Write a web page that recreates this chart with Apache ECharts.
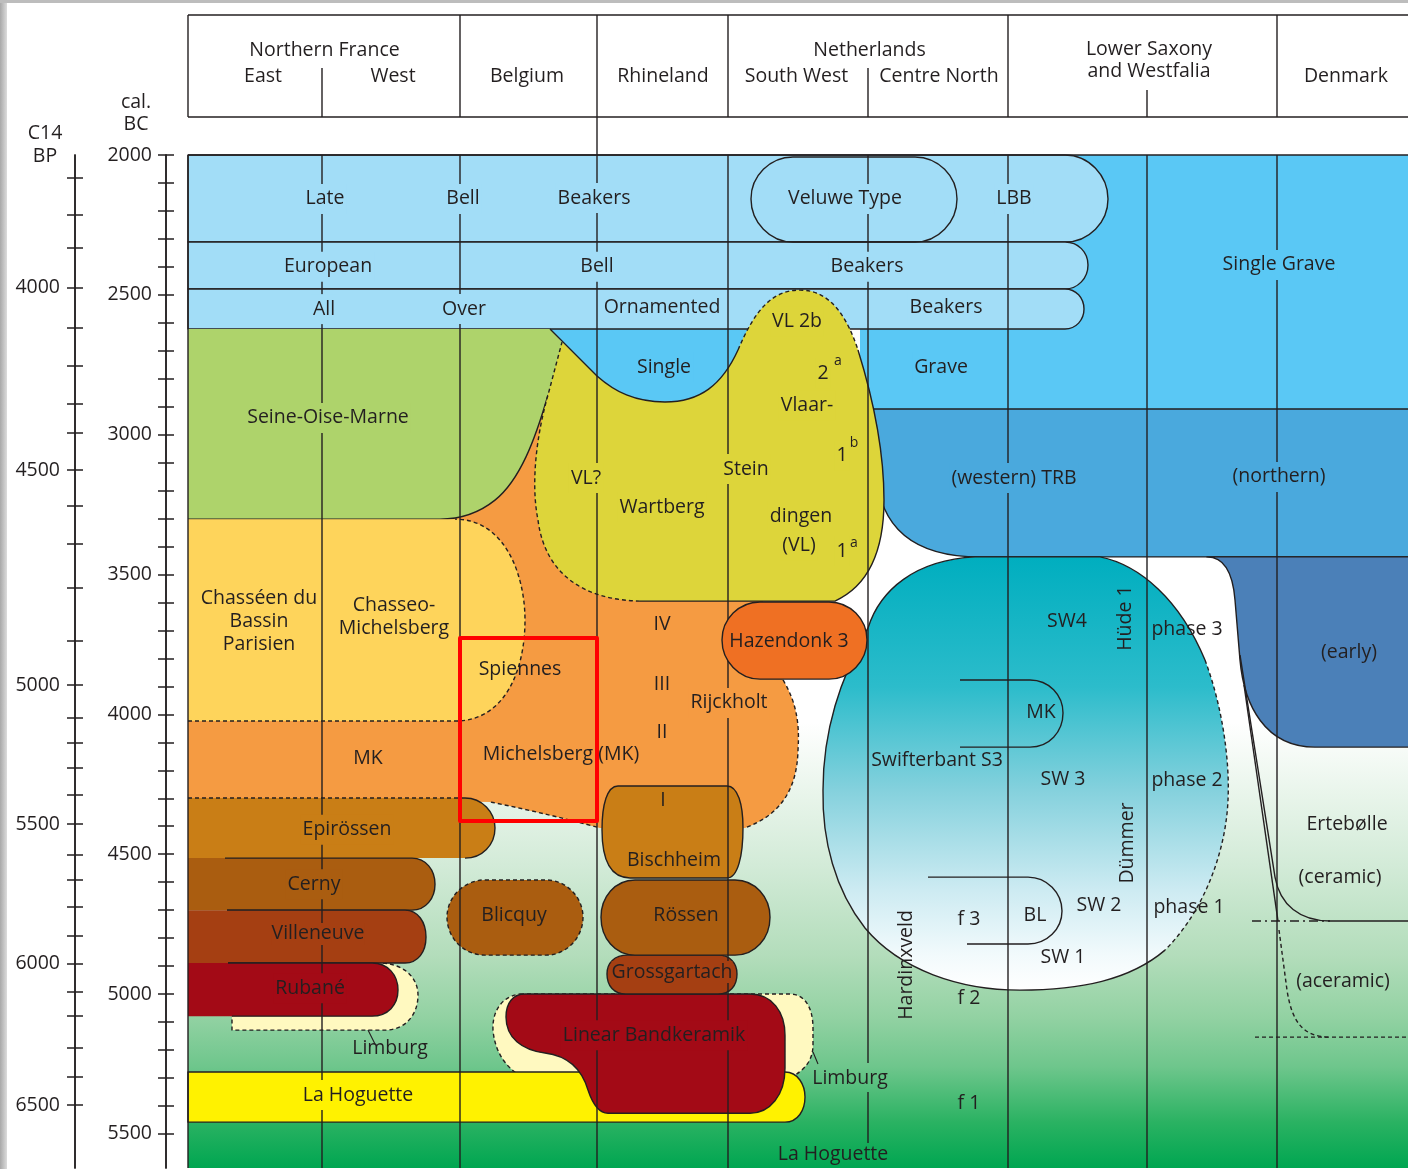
<!DOCTYPE html>
<html>
<head>
<meta charset="utf-8">
<script src="https://cdn.jsdelivr.net/npm/echarts@6/dist/echarts.min.js"></script>
<style>
html,body{margin:0;padding:0;background:#fff;}
#main{width:1408px;height:1169px;}
</style>
</head>
<body>
<div id="main"></div>
<script>
// ================= DATA =================
// x: west -> east position (0 = left edge of Northern France East column), y: cal BC years
const calLabels = [2000, 2500, 3000, 3500, 4000, 4500, 5000, 5500];
const calTickStep = 100;
const c14BP    = [3700,3800,3900,4000,4100,4200,4300,4400,4500,4600,4700,4800,4900,5000,5100,5200,5300,5400,5500,5600,5700,5800,5900,6000,6100,6200,6300,6400,6500];
const c14CalBC = [2083,2213,2331,2474,2619,2754,2888,2992,3127,3254,3391,3547,3738,3895,4013,4101,4191,4288,4392,4503,4592,4688,4791,4892,4992,5079,5192,5297,5397];
const c14Labelled = [4000, 4500, 5000, 5500, 6000, 6500];

const columnLines = [134, 272, 409, 540, 680, 820, 959, 1089];
const columnLineGaps = [[680, 5247, 5350], [680, 5533, 5622]]; // [x, from, to] breaks around labels
const headerFullLines = [0, 272, 409, 540, 820, 1089];
const headerSplitLinesHigh = [134, 680];
const headerSplitLinesLow = [959];
const headerBridgeLines = [409];
const headerRegions = [['Northern France', 136.5], ['Netherlands', 681.5]];
const headerTwoLine = [['Lower Saxony\nand Westfalia', 961]];
const headerSubRegions = [['East', 75], ['West', 205], ['Belgium', 339], ['Rhineland', 475], ['South West', 608.5], ['Centre North', 751], ['Denmark', 1158]];

// culture outlines (path commands in [x, cal BC])
const chartField = ['M',0,2000,'L',1230,2000,'L',1230,5622,'L',0,5622,'Z'];
const singleGraveArea = ['M',352,2590,'L',409,2790,'C',427,2847,447,2883,477,2883,'C',512,2883,534,2822,550,2697,'L',592,2518,'L',592,2000,'L',1230,2000,'L',1230,2908,'L',672,2908,'L',672,2590,'Z'];
const bellBeakerLate = ['M',0,2000,'L',877,2000,'C',901,2000,920,2075,920,2157,'C',920,2240,901,2311,877,2311,'L',0,2311,'Z'];
const bellBeakerEuropean = ['M',0,2311,'L',877,2311,'C',890,2311,900,2347,900,2393,'C',900,2440,890,2479,877,2479,'L',0,2479,'Z'];
const bellBeakerAllOver = ['M',0,2479,'L',877,2479,'C',888,2479,896,2511,896,2551,'C',896,2590,888,2622,877,2622,'L',0,2622,'Z'];
const veluweType = ['M',605,2007,'L',727,2007,'C',750,2007,769,2075,769,2157,'C',769,2240,750,2311,727,2311,'L',605,2311,'C',582,2311,563,2240,563,2157,'C',563,2075,582,2007,605,2007,'Z'];
const trbWestern = ['M',680,2908,'L',1230,2908,'L',1230,3437,'L',792,3437,'C',725,3437,691,3334,688,3126,'L',680,2908,'Z'];
const trbEarly = ['M',1019,3437,'C',1037,3437,1045,3502,1047,3591,'L',1052,3806,'C',1056,3967,1077,4117,1127,4117,'L',1230,4117,'L',1230,3437,'Z'];
const swifterbant = ['M',680,3691,'C',692,3555,727,3448,787,3437,'L',912,3437,'C',952,3466,992,3591,1017,3806,'C',1034,3967,1042,4163,1040,4306,'C',1038,4485,1017,4700,977,4843,'C',942,4950,892,4986,832,4986,'C',772,4986,712,4914,677,4764,'C',647,4628,634,4449,635,4271,'C',635,4056,652,3877,680,3691,'Z'];
const swifterbantEdge = ['M',977,4843,'C',942,4950,892,4986,832,4986,'C',772,4986,712,4914,677,4764,'C',647,4628,634,4449,635,4271,'C',635,4056,652,3877,680,3691,'C',692,3555,727,3448,787,3437,'L',912,3437,'C',952,3466,992,3591,1017,3806];
const swifterbantEdgeDashed = ['M',1017,3806,'C',1034,3967,1042,4163,1040,4306,'C',1038,4485,1017,4700,977,4843];
const michelsbergArea = ['M',0,3252,'L',360,2805,'L',452,3448,'L',572,3555,'L',595,3877,'C',607,3949,612,4020,610,4128,'C',609,4271,592,4360,557,4406,'L',412,4406,'C',382,4377,342,4342,302,4313,'L',0,4299,'Z'];
const michelsbergEdgeRight = ['M',595,3877,'C',607,3949,612,4020,610,4128,'C',609,4271,592,4360,557,4406];
const michelsbergEdgeBottom = ['M',409,4403,'C',382,4377,342,4342,302,4313];
const seineOiseMarne = ['M',0,2622,'L',362,2622,'L',374,2669,'C',372,2740,368,2797,360,2858,'C',347,3019,332,3162,307,3234,'C',292,3277,274,3302,252,3302,'L',0,3302,'Z'];
const seineOiseMarneEdge = ['M',360,2858,'C',347,3019,332,3162,307,3234,'C',292,3277,274,3302,252,3302,'L',0,3302];
const chasseen = ['M',0,3302,'L',267,3302,'C',317,3302,337,3502,337,3663,'C',337,3842,317,4024,267,4024,'L',0,4024,'Z'];
const chasseenEdge = ['M',0,4024,'L',267,4024,'C',317,4024,337,3842,337,3663,'C',337,3502,317,3302,267,3302];
const vlaardingen = ['M',612,2483,'C',644,2483,660,2590,670,2697,'C',684,2858,696,3055,696,3234,'C',696,3412,682,3538,647,3595,'L',452,3595,'C',397,3591,357,3502,350,3305,'C',342,3162,350,2983,360,2858,'L',374,2669,'L',409,2790,'C',427,2847,447,2883,477,2883,'C',512,2883,534,2822,550,2697,'C',567,2554,584,2483,612,2483,'Z'];
const vlEdgeDashedLeft = ['M',452,3595,'C',397,3591,357,3502,350,3305,'C',342,3162,350,2983,360,2858,'L',374,2669];
const vlEdgeDashedTop = ['M',550,2697,'C',567,2554,584,2483,612,2483,'C',644,2483,660,2590,670,2697];
const vlEdgeSolidU = ['M',362,2622,'L',409,2790,'C',427,2847,447,2883,477,2883,'C',512,2883,534,2822,550,2697];
const vlEdgeSolidRight = ['M',670,2697,'C',684,2858,696,3055,696,3234,'C',696,3412,682,3538,647,3595,'L',452,3595];
const epirossen = ['M',0,4299,'L',277,4299,'C',294,4299,307,4349,307,4406,'C',307,4467,294,4514,277,4514,'L',0,4514,'Z'];
const epirossenEdge = ['M',277,4299,'C',294,4299,307,4349,307,4406,'C',307,4467,294,4514,277,4514];
const mkEpirossenBoundary = ['M',0,4299,'L',277,4299];
const cerny = ['M',0,4514,'L',224,4514,'C',238,4514,247,4557,247,4607,'C',247,4657,238,4700,224,4700,'L',0,4700,'Z'];
const cernyEdge = ['M',37,4514,'L',224,4514,'C',238,4514,247,4557,247,4607,'C',247,4657,238,4700,224,4700,'L',39,4700];
const limburgWest = ['M',44,4889,'L',195,4889,'C',217,4896,230,4943,230,5004,'C',230,5075,217,5129,197,5129,'L',44,5129,'Z'];
const limburgWestEdge = ['M',195,4889,'C',217,4896,230,4943,230,5004,'C',230,5075,217,5129,197,5129,'L',44,5129,'L',44,5079];
const villeneuve = ['M',0,4700,'L',217,4700,'C',230,4700,238,4743,238,4796,'C',238,4850,230,4889,217,4889,'L',0,4889,'Z'];
const villeneuveEdge = ['M',39,4700,'L',217,4700,'C',230,4700,238,4743,238,4796,'C',238,4850,230,4889,217,4889,'L',40,4889];
const rubane = ['M',0,4889,'L',184,4889,'C',200,4889,210,4932,210,4986,'C',210,5039,200,5079,184,5079,'L',0,5079,'Z'];
const rubaneEdge = ['M',40,4889,'L',184,4889,'C',200,4889,210,4932,210,4986,'C',210,5039,200,5079,184,5079,'L',44,5079];
const limburgEast = ['M',332,5000,'L',602,5000,'C',617,5000,625,5050,625,5122,'L',625,5182,'C',625,5236,617,5272,602,5300,'L',332,5293,'C',317,5257,307,5207,305,5129,'C',304,5057,315,5007,332,5000,'Z'];
const laHoguette = ['M',0,5279,'L',597,5279,'C',610,5279,617,5325,617,5368,'C',617,5415,610,5458,597,5458,'L',0,5458,'Z'];
const lbk = ['M',337,5000,'L',562,5000,'C',584,5000,597,5064,597,5147,'L',597,5265,'C',597,5361,582,5426,562,5426,'L',420,5426,'C',410,5426,404,5386,400,5343,'C',394,5272,382,5222,357,5211,'C',334,5200,318,5157,318,5082,'C',318,5032,325,5000,337,5000,'Z'];
const grossgartach = ['M',440,4861,'L',530,4861,'C',542,4861,549,4889,549,4928,'C',549,4971,542,5000,530,5000,'L',438,5000,'C',426,5000,419,4971,419,4928,'C',419,4889,426,4861,440,4861,'Z'];
const rossen = ['M',447,4592,'L',547,4592,'C',567,4592,582,4653,582,4725,'C',582,4800,567,4861,547,4861,'L',447,4861,'C',427,4861,413,4800,413,4725,'C',413,4653,427,4592,447,4592,'Z'];
const bischheim = ['M',430,4256,'L',539,4256,'C',550,4256,555,4324,555,4406,'C',555,4503,550,4585,539,4585,'L',442,4585,'C',422,4585,414,4521,414,4413,'C',414,4324,419,4256,430,4256,'Z'];
const blicquy = ['M',297,4592,'L',358,4592,'C',378,4592,395,4653,395,4725,'C',395,4800,378,4861,358,4861,'L',297,4861,'C',276,4861,259,4800,259,4725,'C',259,4653,276,4592,297,4592,'Z'];
const hazendonk = ['M',572,3598,'L',641,3598,'C',662,3598,679,3659,679,3734,'C',679,3809,662,3874,641,3874,'L',572,3874,'C',551,3874,534,3809,534,3734,'C',534,3659,551,3598,572,3598,'Z'];
const swifterbantMK = ['M',772,3877,'L',842,3877,'C',861,3877,875,3931,875,3995,'C',875,4063,861,4117,842,4117,'L',772,4117];
const swifterbantBL = ['M',740,4582,'L',840,4582,'C',859,4582,874,4639,874,4703,'C',874,4768,859,4821,840,4821,'L',779,4821];
const erteCeramicEdge = ['M',1052,3788,'L',1087,4582,'C',1092,4682,1112,4739,1142,4739,'L',1230,4739];
const erteAceramicEdge = ['M',1056,3895,'L',1090,4739];
const erteAceramicDashed = ['M',1091,4771,'L',1099,4986,'C',1104,5100,1115,5154,1142,5154];
const erteAceramicBase = ['M',1067,5154,'L',1230,5154];
const erteCeramicBase = ['M',1064,4739,'L',1142,4739];
const limburgLeaders = ['M',180,5129,'L',187,5179,'M',625,5207,'L',630,5250];
const chartTopBorder = ['M',0,2000,'L',1230,2000];
const chartLeftBorder = ['M',0,2000,'L',0,5622];
const highlightBox = ['M',272,3727,'L',409,3727,'L',409,4381,'L',272,4381,'Z'];

// labels: [text, x, cal BC]
const beakerLabels = [['Late',137,2157],['Bell',275,2157],['Beakers',406,2154],['Veluwe Type',657,2157],['LBB',826,2157],['European',140,2400],['Bell',409,2400],['Beakers',679,2400],['All',136,2551],['Over',276,2551],['Ornamented',474,2544],['Beakers',758,2544]];
const singleGraveLabels = [['Single Grave',1091,2393],['Single',476,2758],['Grave',753,2758]];
const somLabels = [['Seine-Oise-Marne',140,2940]];
const trbLabels = [['(western) TRB',826,3155],['(northern)',1091,3151]];
const earlyTrbLabels = [['(early)',1161,3777]];
const vlLabels = [['VL 2b',609,2594],['Vlaar-',619,2897],['Stein',558,3123],['VL?',398,3155],['Wartberg',474,3259],['dingen',613,3291],['(VL)',611,3395],['2',635,2780],['1',654,3073],['1',654,3416]];
const vlSuperscripts = [['a',650,2737],['b',666,3030],['a',666,3387]];
const chasseenLabels = [['Chasséen du\nBassin\nParisien',71,3666],['Chasseo-\nMichelsberg',206,3650],['Spiennes',332,3838]];
const michelsbergLabels = [['IV',474,3677],['III',474,3892],['II',474,4063],['Michelsberg (MK)',373,4145],['MK',180,4156]];
const rijckholtLabels = [['Rijckholt',541,3959]];
const hazendonkLabels = [['Hazendonk 3',601,3738]];
const epirossenLabels = [['Epirössen',159,4413]];
const cernyLabels = [['Cerny',126,4607]];
const villeneuveLabels = [['Villeneuve',130,4785],['Grossgartach',484,4921]];
const rubaneLabels = [['Rubané',122,4979],['Linear Bandkeramik',466,5147]];
const hoguetteLabels = [['La Hoguette',170,5361]];
const danubianLabels = [['I',475,4306],['Bischheim',486,4524],['Rössen',498,4718],['Blicquy',326,4718],['Limburg',202,5193]];
const eastLowerLabels = [['Limburg',662,5300],['La Hoguette',645,5572]];
const swifterbantLabels = [['SW4',879,3666],['phase 3',999,3695],['MK',853,3992],['Swifterbant S3',749,4163],['SW 3',875,4231],['phase 2',999,4238],['SW 2',911,4682],['phase 1',1001,4689],['BL',847,4718],['f 3',781,4735],['SW 1',875,4868],['f 2',781,5014],['f 1',781,5390]];
const verticalLabels = [['Hüde 1',937,3656],['Dümmer',939,4460],['Hardinxveld',718,4896]];
const denmarkLabels = [['Ertebølle',1159,4392],['(ceramic)',1152,4582],['(aceramic)',1155,4954]];

// ================= STYLE / RENDER =================
const INK = '#231f20';
const FONT = '"Open Sans", "Noto Sans", sans-serif';
const FS = 19.5;
const LW = 1.4;
const solid = { stroke: INK, lineWidth: LW };
const dashed = { stroke: INK, lineWidth: LW, lineDash: [4, 3] };

const fieldGradient = new echarts.graphic.LinearGradient(0, 0, 0, 1, [
  { offset: 0, color: '#ffffff' }, { offset: 0.56, color: '#ffffff' },
  { offset: 0.63, color: '#e9f5eb' }, { offset: 0.70, color: '#d3ebd8' },
  { offset: 0.79, color: '#b3ddbb' }, { offset: 0.85, color: '#93d2a3' },
  { offset: 0.90, color: '#6ec68c' }, { offset: 0.955, color: '#2ab262' },
  { offset: 1, color: '#00a651' }
]);
const swGradient = new echarts.graphic.LinearGradient(0, 0, 0, 1, [
  { offset: 0, color: '#00aebf' }, { offset: 0.3, color: '#2cbccb' },
  { offset: 0.54, color: '#85d1dd' }, { offset: 0.77, color: '#cdebf2' },
  { offset: 0.92, color: '#f2fafc' }, { offset: 1, color: '#ffffff' }
]);

const drawList = [
  { g: chartField, fill: fieldGradient },
  { g: singleGraveArea, fill: '#5ac8f5' },
  { g: bellBeakerLate, fill: '#a2ddf7', ...solid },
  { g: bellBeakerEuropean, fill: '#a2ddf7', ...solid },
  { g: bellBeakerAllOver, fill: '#a2ddf7', ...solid },
  { g: veluweType, ...solid },
  { g: trbWestern, fill: '#4aa9dd', ...solid },
  { g: trbEarly, fill: '#4b80b8', ...solid },
  { g: swifterbant, fill: swGradient },
  { g: swifterbantEdge, ...solid },
  { g: swifterbantEdgeDashed, ...dashed },
  { g: michelsbergArea, fill: '#f59b42' },
  { g: seineOiseMarne, fill: '#aed36b' },
  { g: seineOiseMarneEdge, ...solid },
  { g: chasseen, fill: '#fed45b' },
  { g: chasseenEdge, ...dashed },
  { g: vlaardingen, fill: '#ddd53a' },
  { g: vlEdgeDashedLeft, ...dashed },
  { g: vlEdgeDashedTop, ...dashed },
  { g: vlEdgeSolidU, ...solid },
  { g: vlEdgeSolidRight, ...solid },
  { g: michelsbergEdgeRight, ...dashed },
  { g: michelsbergEdgeBottom, ...dashed },
  { g: epirossen, fill: '#c97e16' },
  { g: epirossenEdge, ...solid },
  { g: mkEpirossenBoundary, ...dashed },
  { g: cerny, fill: '#aa5d10' },
  { g: cernyEdge, ...solid },
  { g: limburgWest, fill: '#fff9c0' },
  { g: limburgWestEdge, ...dashed },
  { g: villeneuve, fill: '#a53f12' },
  { g: villeneuveEdge, ...solid },
  { g: rubane, fill: '#a30a16' },
  { g: rubaneEdge, ...solid },
  { g: limburgEast, fill: '#fff9c0', ...dashed },
  { g: laHoguette, fill: '#fff200', ...solid },
  { g: lbk, fill: '#a30a16', ...solid },
  { g: grossgartach, fill: '#a53f12', ...solid },
  { g: rossen, fill: '#aa5d10', ...solid },
  { g: bischheim, fill: '#c97e16', ...solid },
  { g: blicquy, fill: '#aa5d10', ...dashed },
  { g: swifterbantMK, ...solid },
  { g: swifterbantBL, ...solid },
  { g: erteCeramicEdge, ...solid },
  { g: erteAceramicEdge, ...solid },
  { g: erteAceramicDashed, ...dashed },
  { g: erteAceramicBase, ...dashed },
  { g: erteCeramicBase, stroke: INK, lineWidth: LW, lineDash: [9, 4, 2, 4] },
  { g: limburgLeaders, stroke: INK, lineWidth: 1.1 }
];

// column lines, split where a label interrupts them
function columnSegments() {
  const out = [];
  columnLines.forEach(x => {
    const gaps = columnLineGaps.filter(g => g[0] === x).sort((a, b) => a[1] - b[1]);
    let start = 2000;
    gaps.forEach(g => { out.push(['M', x, start, 'L', x, g[1]]); start = g[2]; });
    if (start < 5622) out.push(['M', x, start, 'L', x, 5622]);
  });
  return out;
}
const lineList = [{ g: chartTopBorder, ...solid }, { g: chartLeftBorder, ...solid }]
  .concat(columnSegments().map(seg => ({ g: seg, ...solid })));
const topList = [{ g: hazendonk, fill: '#ef7023', ...solid }];
const boxList = [{ g: highlightBox, stroke: '#ff0000', lineWidth: 4 }];

const labelSets = [
  [beakerLabels, { bg: '#a2ddf7' }],
  [singleGraveLabels, { bg: '#5ac8f5' }],
  [somLabels, { bg: '#aed36b' }],
  [trbLabels, { bg: '#4aa9dd' }],
  [earlyTrbLabels, {}],
  [vlLabels, { bg: '#ddd53a' }],
  [vlSuperscripts, { size: 14 }],
  [chasseenLabels, { lh: 23 }],
  [michelsbergLabels, {}],
  [rijckholtLabels, { bg: '#f59b42' }],
  [hazendonkLabels, {}],
  [epirossenLabels, { bg: '#c97e16' }],
  [cernyLabels, { bg: '#aa5d10' }],
  [villeneuveLabels, { bg: '#a53f12', pad: [1, 0] }],
  [rubaneLabels, { bg: '#a30a16' }],
  [hoguetteLabels, { bg: '#fff200' }],
  [danubianLabels, {}],
  [eastLowerLabels, {}],
  [swifterbantLabels, {}],
  [verticalLabels, { rot: Math.PI / 2 }],
  [denmarkLabels, {}]
];
const labelItems = [];
labelSets.forEach(([arr, st]) => arr.forEach(l => labelItems.push({ t: l[0], x: l[1], y: l[2], st })));

function pathFrom(cmds, api) {
  let d = '';
  for (let i = 0; i < cmds.length;) {
    const c = cmds[i++];
    if (c === 'Z') { d += 'Z '; continue; }
    const n = c === 'C' ? 3 : 1;
    d += c;
    for (let k = 0; k < n; k++) {
      const p = api.coord([cmds[i], cmds[i + 1]]);
      i += 2;
      d += ' ' + p[0].toFixed(2) + ' ' + p[1].toFixed(2);
    }
    d += ' ';
  }
  return d;
}
function pathSeries(list, z) {
  return {
    type: 'custom', coordinateSystem: 'cartesian2d', z, silent: true, clip: false,
    data: list.map((_, i) => [i, 2000]),
    renderItem: (params, api) => {
      const it = list[params.dataIndex];
      return {
        type: 'path', silent: true,
        shape: { pathData: pathFrom(it.g, api) },
        style: { fill: it.fill || 'none', stroke: it.stroke || 'none', lineWidth: it.lineWidth || 0, lineDash: it.lineDash || null, lineJoin: 'round' }
      };
    }
  };
}

const calTickValues = [];
for (let v = calLabels[0]; v <= calLabels[calLabels.length - 1]; v += calTickStep) calTickValues.push(v);
const c14LabelValues = c14Labelled.map(bp => c14CalBC[c14BP.indexOf(bp)]);

function yAx(offset, inside, tickVals, labelVals, fmt, margin) {
  return {
    type: 'value', inverse: true, min: 2000, max: 5622, position: 'left', offset,
    axisLine: { show: true, onZero: false, lineStyle: { color: INK, width: 1.5 } },
    axisTick: { show: true, inside, length: 8, customValues: tickVals, lineStyle: { color: INK, width: 1.5 } },
    axisLabel: { show: !inside, customValues: labelVals, formatter: fmt, margin, fontFamily: FONT, fontSize: FS, color: INK },
    splitLine: { show: false }, minorTick: { show: false }
  };
}
const calFmt = v => String(v);
const c14Fmt = v => { const i = c14CalBC.indexOf(v); return i >= 0 ? String(c14BP[i]) : ''; };

const headerSeries = {
  type: 'custom', coordinateSystem: 'cartesian2d', z: 6, silent: true, clip: false,
  data: [[0, 2000]],
  renderItem: (params, api) => {
    const top = api.coord([0, 2000])[1];
    const X = v => api.coord([v, 2000])[0];
    const ch = [];
    const L = (x1, y1, x2, y2) => ch.push({ type: 'line', shape: { x1, y1, x2, y2 }, style: { stroke: INK, lineWidth: LW } });
    const T = (text, x, y, lh) => ch.push({ type: 'text', x, y, style: { text, align: 'center', verticalAlign: 'middle', fontFamily: FONT, fontSize: FS, fill: INK, lineHeight: lh || FS } });
    const hTop = top - 140, hBot = top - 38;
    L(X(0), hTop, X(1230), hTop);
    L(X(0), hBot, X(1230), hBot);
    headerFullLines.forEach(v => L(X(v), hTop, X(v), hBot));
    headerSplitLinesHigh.forEach(v => L(X(v), top - 87, X(v), hBot));
    headerSplitLinesLow.forEach(v => L(X(v), top - 65, X(v), hBot));
    headerBridgeLines.forEach(v => L(X(v), hBot, X(v), top));
    headerRegions.forEach(h => T(h[0], X(h[1]), top - 105));
    headerTwoLine.forEach(h => T(h[0], X(h[1]), top - 95, 22));
    headerSubRegions.forEach(h => T(h[0], X(h[1]), top - 79));
    T('cal.\nBC', X(0) - 52, top - 42, 22);
    T('C14\nBP', X(0) - 143, top - 10, 23);
    return { type: 'group', children: ch };
  }
};

const labelSeries = {
  type: 'custom', coordinateSystem: 'cartesian2d', z: 5, silent: true, clip: false,
  data: labelItems.map((_, i) => [i, 2000]),
  renderItem: (params, api) => {
    const it = labelItems[params.dataIndex];
    const p = api.coord([it.x, it.y]);
    const st = it.st;
    return {
      type: 'text', x: p[0], y: p[1], rotation: st.rot || 0, silent: true,
      style: {
        text: it.t, align: 'center', verticalAlign: 'middle', fontFamily: FONT,
        fontSize: st.size || FS, fill: INK, lineHeight: st.lh || undefined,
        backgroundColor: st.bg || null, padding: st.bg ? (st.pad || [5, 2]) : 0
      }
    };
  }
};

const chart = echarts.init(document.getElementById('main'), null, { renderer: 'canvas' });
chart.setOption({
  animation: false,
  backgroundColor: '#ffffff',
  grid: { left: 188, top: 155, width: 1220, height: 1013, containLabel: false, outerBoundsMode: 'none' },
  xAxis: { type: 'value', min: 0, max: 1220, show: false },
  yAxis: [
    yAx(22, false, calTickValues, calLabels, calFmt, 14),
    yAx(22, true, calTickValues, calLabels, calFmt, 14),
    yAx(113, false, c14CalBC, c14LabelValues, c14Fmt, 15),
    yAx(113, true, c14CalBC, c14LabelValues, c14Fmt, 15)
  ],
  graphic: [
    { type: 'rect', z: 100, shape: { x: 0, y: 0, width: 7, height: 1169 }, style: { fill: new echarts.graphic.LinearGradient(0, 0, 1, 0, [{ offset: 0, color: '#a8a8a8' }, { offset: 1, color: '#dcdcdc' }]) } },
    { type: 'rect', z: 100, shape: { x: 0, y: 0, width: 1408, height: 3 }, style: { fill: '#bdbdbd' } }
  ],
  series: [
    pathSeries(drawList, 1),
    pathSeries(lineList, 2),
    pathSeries(topList, 3),
    labelSeries,
    headerSeries,
    pathSeries(boxList, 7)
  ]
});
</script>
</body>
</html>
